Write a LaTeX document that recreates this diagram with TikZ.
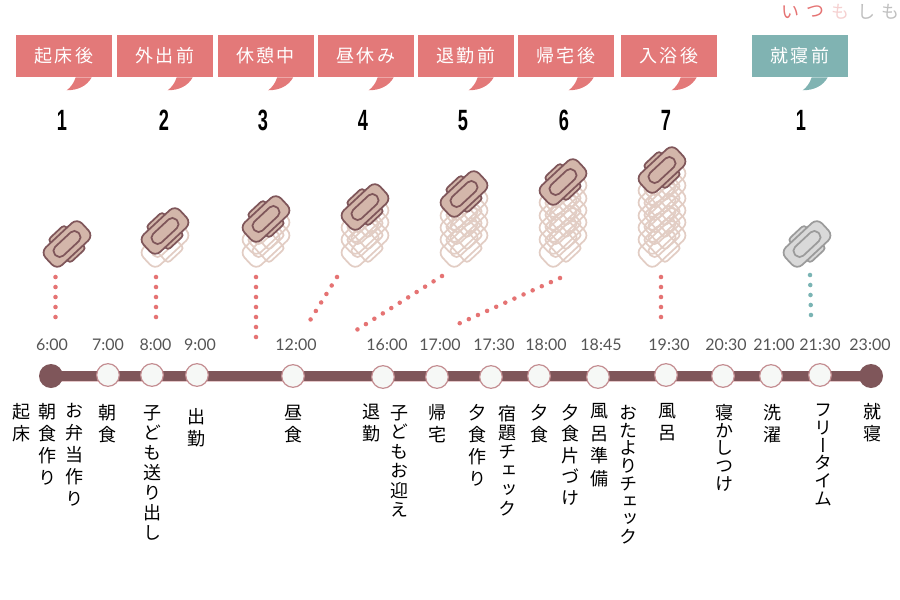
\documentclass[tikz,border=0pt]{standalone}
\usepackage{fontspec}
\usepackage{xcolor}
\usetikzlibrary{positioning, calc, backgrounds}
\newfontfamily\cjkfont[RawFeature=+vert]{Noto Sans CJK JP}
\newfontfamily\cjkplain{Noto Sans CJK JP}
\newfontfamily\cjkwide[LetterSpace=12]{Noto Sans CJK JP}
\newfontfamily\timefont{Lato}
\newfontfamily\countfont{Liberation Sans}
\newcommand{\countnum}[1]{\scalebox{.62}[1]{\textbf{#1}}}
\definecolor{callred}{RGB}{227,121,121}
\definecolor{callteal}{RGB}{128,179,178}
\definecolor{dotred}{RGB}{229,115,115}
\definecolor{dotteal}{RGB}{122,180,180}
\definecolor{lineplum}{RGB}{127,86,90}
\definecolor{linepink}{RGB}{228,198,200}
\definecolor{stoprim}{RGB}{196,142,146}
\definecolor{stopfill}{RGB}{246,248,246}
\definecolor{padbody}{RGB}{211,182,170}
\definecolor{padghost}{RGB}{226,205,196}
\definecolor{padgrayfill}{RGB}{217,217,217}
\definecolor{padgrayline}{RGB}{155,155,155}
\definecolor{timegray}{RGB}{85,85,85}
\tikzset{
    callbox/.style={
        rectangle,
        minimum width=72pt,
        minimum height=31.5pt,
        inner sep=0pt,
        text=white,
        font=\cjkwide\fontsize{13.5}{14}\selectfont
    },
    calltail/.pic={
        \fill[pic actions] (60,0) .. controls (58,6) and (55,10) .. (51,13)
            .. controls (62,13) and (71,9) .. (76,0) -- cycle;
    },
    logolbl/.style={
        font=\cjkplain\fontsize{13.5}{14}\selectfont,
        inner sep=0pt
    },
    countlbl/.style={
        font=\countfont\fontsize{22}{24}\selectfont,
        anchor=base,
        inner sep=0pt
    },
    timelbl/.style={
        font=\timefont\fontsize{12}{14}\selectfont,
        text=timegray,
        inner sep=0pt
    },
    tate/.style={
        anchor=north,
        align=center,
        inner sep=0pt,
        font=\cjkfont\fontsize{13.5}{#1}\selectfont
    },
    tate/.default=16.5,
    stop/.style={
        circle,
        draw=stoprim,
        line width=0.9pt,
        fill=stopfill,
        minimum size=17pt,
        inner sep=0pt
    },
    endstop/.style={
        circle,
        fill=lineplum,
        minimum size=18pt,
        inner sep=0pt
    },
    timeline/.style={
        draw=lineplum,
        line width=7pt,
        preaction={draw=linepink, line width=7pt, transform canvas={yshift=-0.8pt}}
    },
    dotline/.style={
        line width=3.4pt,
        line cap=round,
        dash pattern=on 0pt off 7.5pt
    },
    pad/.pic={
        \begin{scope}[rotate=43, line width=1.3pt, rounded corners=2.5pt]
            \path[pic actions] (-11,-16) rectangle (11,16);
            \path[pic actions, rounded corners=5.5pt] (-25,-12) rectangle (25,12);
            \path[draw=padline, fill=none, rounded corners=4pt] (-16,-6) rectangle (16,6);
        \end{scope}
    },
    padfront/.style={draw=lineplum, fill=padbody, /utils/exec={\colorlet{padline}{lineplum}}},
    padback/.style={draw=padghost, /utils/exec={\colorlet{padline}{padghost}}},
    padgray/.style={draw=padgrayline, fill=padgrayfill, /utils/exec={\colorlet{padline}{padgrayline}}}
}

\begin{document}
\begin{tikzpicture}[x=0.75pt, y=-0.75pt]
\useasboundingbox (0,0) rectangle (900,600);

% =========================
% Logo
% =========================
\node[logolbl, text=dotred] (logoA) at (790,12) {い};
\node[logolbl, text=dotred] (logoB) at (815,12) {つ};
\node[logolbl, text=callred!35] (logoC) at (840,12) {も};
\node[logolbl, text=black!25] (logoD) at (866,12) {し};
\node[logolbl, text=black!25] (logoE) at (890,12) {も};

% =========================
% Callouts
% =========================
\node[callbox, fill=callred] (callA) at (64,56) {起床後};
\node[callbox, fill=callred] (callB) at (165,56) {外出前};
\node[callbox, fill=callred] (callC) at (265.5,56) {休憩中};
\node[callbox, fill=callred] (callD) at (366,56) {昼休み};
\node[callbox, fill=callred] (callE) at (466,56) {退勤前};
\node[callbox, fill=callred] (callF) at (566,56) {帰宅後};
\node[callbox, fill=callred] (callG) at (669,56) {入浴後};
\node[callbox, fill=callteal] (callH) at (800,56) {就寝前};

\pic[fill=callred] at (callA.south west) {calltail};
\pic[fill=callred] at (callB.south west) {calltail};
\pic[fill=callred] at (callC.south west) {calltail};
\pic[fill=callred] at (callD.south west) {calltail};
\pic[fill=callred] at (callE.south west) {calltail};
\pic[fill=callred] at (callF.south west) {calltail};
\pic[fill=callred] at (callG.south west) {calltail};
\pic[fill=callteal] at (callH.south west) {calltail};

% =========================
% Counts
% =========================
\node[countlbl] (countA) at (62,130) {\countnum{1}};
\node[countlbl] (countB) at (164,130) {\countnum{2}};
\node[countlbl] (countC) at (263,130) {\countnum{3}};
\node[countlbl] (countD) at (363,130) {\countnum{4}};
\node[countlbl] (countE) at (463,130) {\countnum{5}};
\node[countlbl] (countF) at (564,130) {\countnum{6}};
\node[countlbl] (countG) at (666,130) {\countnum{7}};
\node[countlbl] (countH) at (801,130) {\countnum{1}};

% =========================
% Pads, back ones first
% =========================
\pic[padback] at (165,244) {pad};

\pic[padback] at (266,244) {pad};
\pic[padback] at (266,231) {pad};

\pic[padback] at (365,244) {pad};
\pic[padback] at (365,231) {pad};
\pic[padback] at (365,219) {pad};

\pic[padback] at (464,244) {pad};
\pic[padback] at (464,231) {pad};
\pic[padback] at (464,219) {pad};
\pic[padback] at (464,207) {pad};

\pic[padback] at (563,244) {pad};
\pic[padback] at (563,231) {pad};
\pic[padback] at (563,219) {pad};
\pic[padback] at (563,207) {pad};
\pic[padback] at (563,194) {pad};

\pic[padback] at (662,244) {pad};
\pic[padback] at (662,231) {pad};
\pic[padback] at (662,219) {pad};
\pic[padback] at (662,207) {pad};
\pic[padback] at (662,194) {pad};
\pic[padback] at (662,182) {pad};

\pic[padfront] at (67,244) {pad};
\pic[padfront] at (165,231) {pad};
\pic[padfront] at (266,219) {pad};
\pic[padfront] at (365,207) {pad};
\pic[padfront] at (464,194) {pad};
\pic[padfront] at (563,182) {pad};
\pic[padfront] at (662,170) {pad};
\pic[padgray] at (807,244) {pad};

% =========================
% Dotted leaders
% =========================
\coordinate (dotAtop) at (55.5,277);
\coordinate (dotAend) at (55.5,318);
\coordinate (dotBtop) at (156,277);
\coordinate (dotBend) at (156,318);
\coordinate (dotCtop) at (256,277);
\coordinate (dotCend) at (256,338);
\coordinate (dotDtop) at (337,277);
\coordinate (dotDend) at (309,322);
\coordinate (dotEtop) at (442,276);
\coordinate (dotEend) at (355,331);
\coordinate (dotFtop) at (560,278);
\coordinate (dotFend) at (458,324);
\coordinate (dotGtop) at (661,277);
\coordinate (dotGend) at (661,318);
\coordinate (dotHtop) at (810,275);
\coordinate (dotHend) at (811,316);

\draw[dotline, draw=dotred] (dotAtop) -- (dotAend);
\draw[dotline, draw=dotred] (dotBtop) -- (dotBend);
\draw[dotline, draw=dotred] (dotCtop) -- (dotCend);
\draw[dotline, draw=dotred] (dotDtop) -- (dotDend);
\draw[dotline, draw=dotred] (dotEtop) -- (dotEend);
\draw[dotline, draw=dotred] (dotFtop) -- (dotFend);
\draw[dotline, draw=dotred] (dotGtop) -- (dotGend);
\draw[dotline, draw=dotteal] (dotHtop) -- (dotHend);

% =========================
% Timeline
% =========================
\node[endstop] (stopA) at (51,376) {};
\node[stop] (stopB) at (108,375) {};
\node[stop] (stopC) at (152,375) {};
\node[stop] (stopD) at (197,375) {};
\node[stop] (stopE) at (293,376) {};
\node[stop] (stopF) at (383,377) {};
\node[stop] (stopG) at (437,377) {};
\node[stop] (stopH) at (491,377) {};
\node[stop] (stopI) at (539,376) {};
\node[stop] (stopJ) at (598,377) {};
\node[stop] (stopK) at (666,375) {};
\node[stop] (stopL) at (723,376) {};
\node[stop] (stopM) at (771,376) {};
\node[stop] (stopN) at (820,375) {};
\node[endstop] (stopO) at (871,376) {};

\begin{scope}[on background layer]
    \draw[timeline] (stopA.center) -- (stopO.center);
\end{scope}

% =========================
% Times
% =========================
\node[timelbl] (timeA) at (52,345) {6:00};
\node[timelbl] (timeB) at (108,345) {7:00};
\node[timelbl] (timeC) at (155.5,345) {8:00};
\node[timelbl] (timeD) at (200,345) {9:00};
\node[timelbl] (timeE) at (296,345) {12:00};
\node[timelbl] (timeF) at (387,345) {16:00};
\node[timelbl] (timeG) at (440,345) {17:00};
\node[timelbl] (timeH) at (494,345) {17:30};
\node[timelbl] (timeI) at (546,345) {18:00};
\node[timelbl] (timeJ) at (601,345) {18:45};
\node[timelbl] (timeK) at (669,345) {19:30};
\node[timelbl] (timeL) at (726,345) {20:30};
\node[timelbl] (timeM) at (774,345) {21:00};
\node[timelbl] (timeN) at (820,345) {21:30};
\node[timelbl] (timeO) at (870,345) {23:00};

% =========================
% Activities, top to bottom
% =========================
\node[tate] (actKishou) at (21.5,403) {起\\床};
\node[tate] (actAsaSaku) at (47,403) {朝\\食\\作\\り};
\node[tate] (actBento) at (74,403) {お\\弁\\当\\作\\り};
\node[tate] (actAsa) at (107,404) {朝\\食};
\node[tate=15] (actOkuri) at (152,405) {子\\ど\\も\\送\\り\\出\\し};
\node[tate] (actShukkin) at (196,408) {出\\勤};
\node[tate] (actHiru) at (293,405) {昼\\食};
\node[tate] (actTaikin) at (371,404) {退\\勤};
\node[tate=14.6] (actMukae) at (399,405) {子\\ど\\も\\お\\迎\\え};
\node[tate] (actKitaku) at (437,404) {帰\\宅};
\node[tate] (actYuSaku) at (477,404) {夕\\食\\作\\り};
\node[tate=14.2] (actShukudai) at (507,405) {宿\\題\\チ\\ェ\\ッ\\ク};
\node[tate] (actYu) at (539,404) {夕\\食};
\node[tate=16] (actKatazuke) at (570,404) {夕\\食\\片\\づ\\け};
\node[tate=17] (actFuroJun) at (599,403) {風\\呂\\準\\備};
\node[tate=13.3] (actOtayori) at (628,405) {お\\た\\よ\\り\\チ\\ェ\\ッ\\ク};
\node[tate] (actFuro) at (667,403) {風\\呂};
\node[tate=13.3] (actNekashi) at (724,404) {寝\\か\\し\\つ\\け};
\node[tate] (actSentaku) at (772,404) {洗\\濯};
\node[tate=13.3] (actFree) at (823,404) {フ\\リ\\ー\\タ\\イ\\ム};
\node[tate] (actShushin) at (872,403) {就\\寝};

\end{tikzpicture}
\end{document}
